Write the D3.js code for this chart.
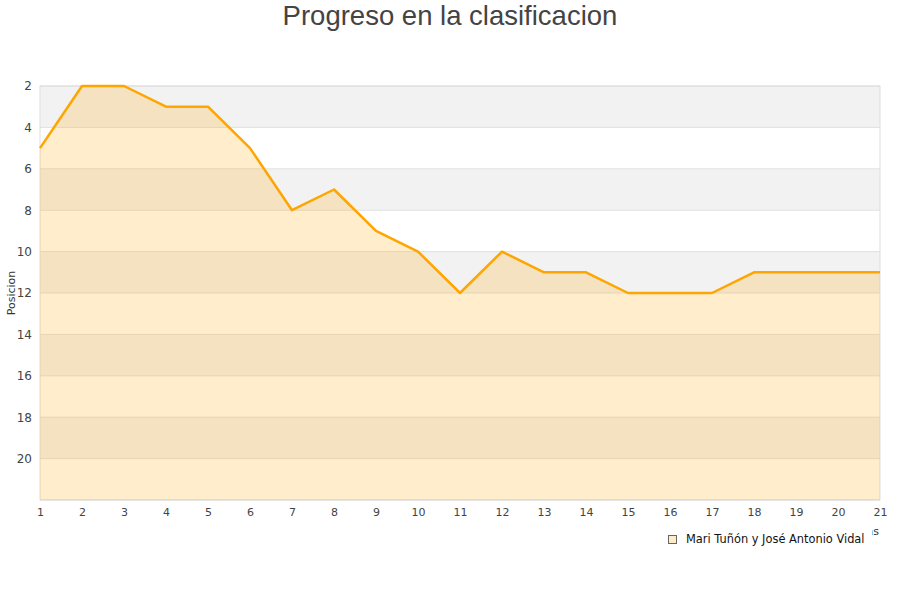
<!DOCTYPE html>
<html>
<head>
<meta charset="utf-8">
<script src="https://cdn.jsdelivr.net/npm/d3@7"></script>
<style>
  body { margin: 0; background: #fff; }
  svg { font-family: "DejaVu Sans", sans-serif; }
</style>
</head>
<body>
<div id="chart"></div>
<script>
// Jornadas (x) and the classification position at each one (y, inverted).
const jornadas = [1, 2, 3, 4, 5, 6, 7, 8, 9, 10, 11, 12, 13, 14, 15, 16, 17, 18, 19, 20, 21];
const posiciones = [5, 2, 2, 3, 3, 5, 8, 7, 9, 10, 12, 10, 11, 11, 12, 12, 12, 11, 11, 11, 11];
const yTicks = [2, 4, 6, 8, 10, 12, 14, 16, 18, 20];
const serieNombre = "Mari Tuñón y José Antonio Vidal";
const titulo = "Progreso en la clasificacion";

const W = 900, H = 600;
const M = { top: 86, right: 20, bottom: 100, left: 40 };

const svg = d3.select("#chart").append("svg")
    .attr("width", W).attr("height", H);

const x = d3.scaleLinear().domain([1, 21]).range([M.left, W - M.right]);
const y = d3.scaleLinear().domain([2, 22]).range([M.top, H - M.bottom]);

// Alternating horizontal bands behind the plot.
const bands = d3.range(2, 22, 2);
svg.append("g").selectAll("rect")
    .data(bands)
    .join("rect")
    .attr("x", M.left)
    .attr("width", x(21) - M.left)
    .attr("y", (d) => y(d))
    .attr("height", (d) => y(d + 2) - y(d))
    .attr("fill", (d, i) => (i % 2 === 0 ? "#f2f2f2" : "#ffffff"));

// Gridlines
svg.append("g").selectAll("line")
    .data(yTicks.concat([22]))
    .join("line")
    .attr("x1", M.left).attr("x2", x(21))
    .attr("y1", (d) => y(d)).attr("y2", (d) => y(d))
    .attr("stroke", "#e0e0e0").attr("stroke-width", 1);

// Plot frame
svg.append("rect")
    .attr("x", M.left).attr("y", M.top)
    .attr("width", x(21) - M.left).attr("height", y(22) - M.top)
    .attr("fill", "none").attr("stroke", "#dddddd");

const pts = jornadas.map((j, i) => [j, posiciones[i]]);

const area = d3.area()
    .x((d) => x(d[0]))
    .y0(y(22))
    .y1((d) => y(d[1]));

svg.append("path")
    .datum(pts)
    .attr("d", area)
    .attr("fill", "#ffa500")
    .attr("fill-opacity", 0.2);

svg.append("path")
    .datum(pts)
    .attr("d", d3.line().x((d) => x(d[0])).y((d) => y(d[1])))
    .attr("fill", "none")
    .attr("stroke", "#ffa500")
    .attr("stroke-width", 2.5)
    .attr("stroke-linejoin", "round");

// Axes (text only, frame drawn above)
const yAxis = svg.append("g")
    .attr("transform", `translate(${M.left},0)`)
    .call(d3.axisLeft(y).tickValues(yTicks).tickSize(0).tickPadding(8));
yAxis.select(".domain").remove();
yAxis.selectAll("text").attr("fill", "#444").attr("font-size", 12)
    .attr("font-family", "DejaVu Sans, sans-serif");

const xAxis = svg.append("g")
    .attr("transform", `translate(0,${y(22)})`)
    .call(d3.axisBottom(x).tickValues(jornadas).tickFormat(d3.format("d")).tickSize(0).tickPadding(8));
xAxis.select(".domain").remove();
xAxis.selectAll("text").attr("fill", "#444").attr("font-size", 11)
    .attr("font-family", "DejaVu Sans, sans-serif");

// Axis titles
svg.append("text")
    .attr("transform", `translate(15,${(M.top + y(22)) / 2}) rotate(-90)`)
    .attr("text-anchor", "middle")
    .attr("font-size", 11)
    .attr("fill", "#333")
    .text("Posicion");

svg.append("text")
    .attr("x", 879).attr("y", 535)
    .attr("text-anchor", "end")
    .attr("font-size", 11)
    .attr("fill", "#333")
    .text("Jornadas");

// Legend (covers most of the x title, as in the original)
const lg = svg.append("g").attr("transform", "translate(660,524)");
lg.append("rect").attr("x", 0).attr("y", 0).attr("width", 212).attr("height", 26).attr("fill", "#fff");
lg.append("rect")
    .attr("x", 8.5).attr("y", 11.5).attr("width", 8).attr("height", 8)
    .attr("fill", "#feecc9").attr("stroke", "#666").attr("stroke-width", 1);
lg.append("text")
    .attr("x", 26).attr("y", 19)
    .attr("font-size", 11.4)
    .attr("fill", "#111")
    .text(serieNombre);

// Title
svg.append("text")
    .attr("x", W / 2).attr("y", 25)
    .attr("text-anchor", "middle")
    .attr("font-size", 27.5)
    .attr("fill", "#444")
    .attr("font-family", "Liberation Sans, Arial, sans-serif")
    .text(titulo);
</script>
</body>
</html>
